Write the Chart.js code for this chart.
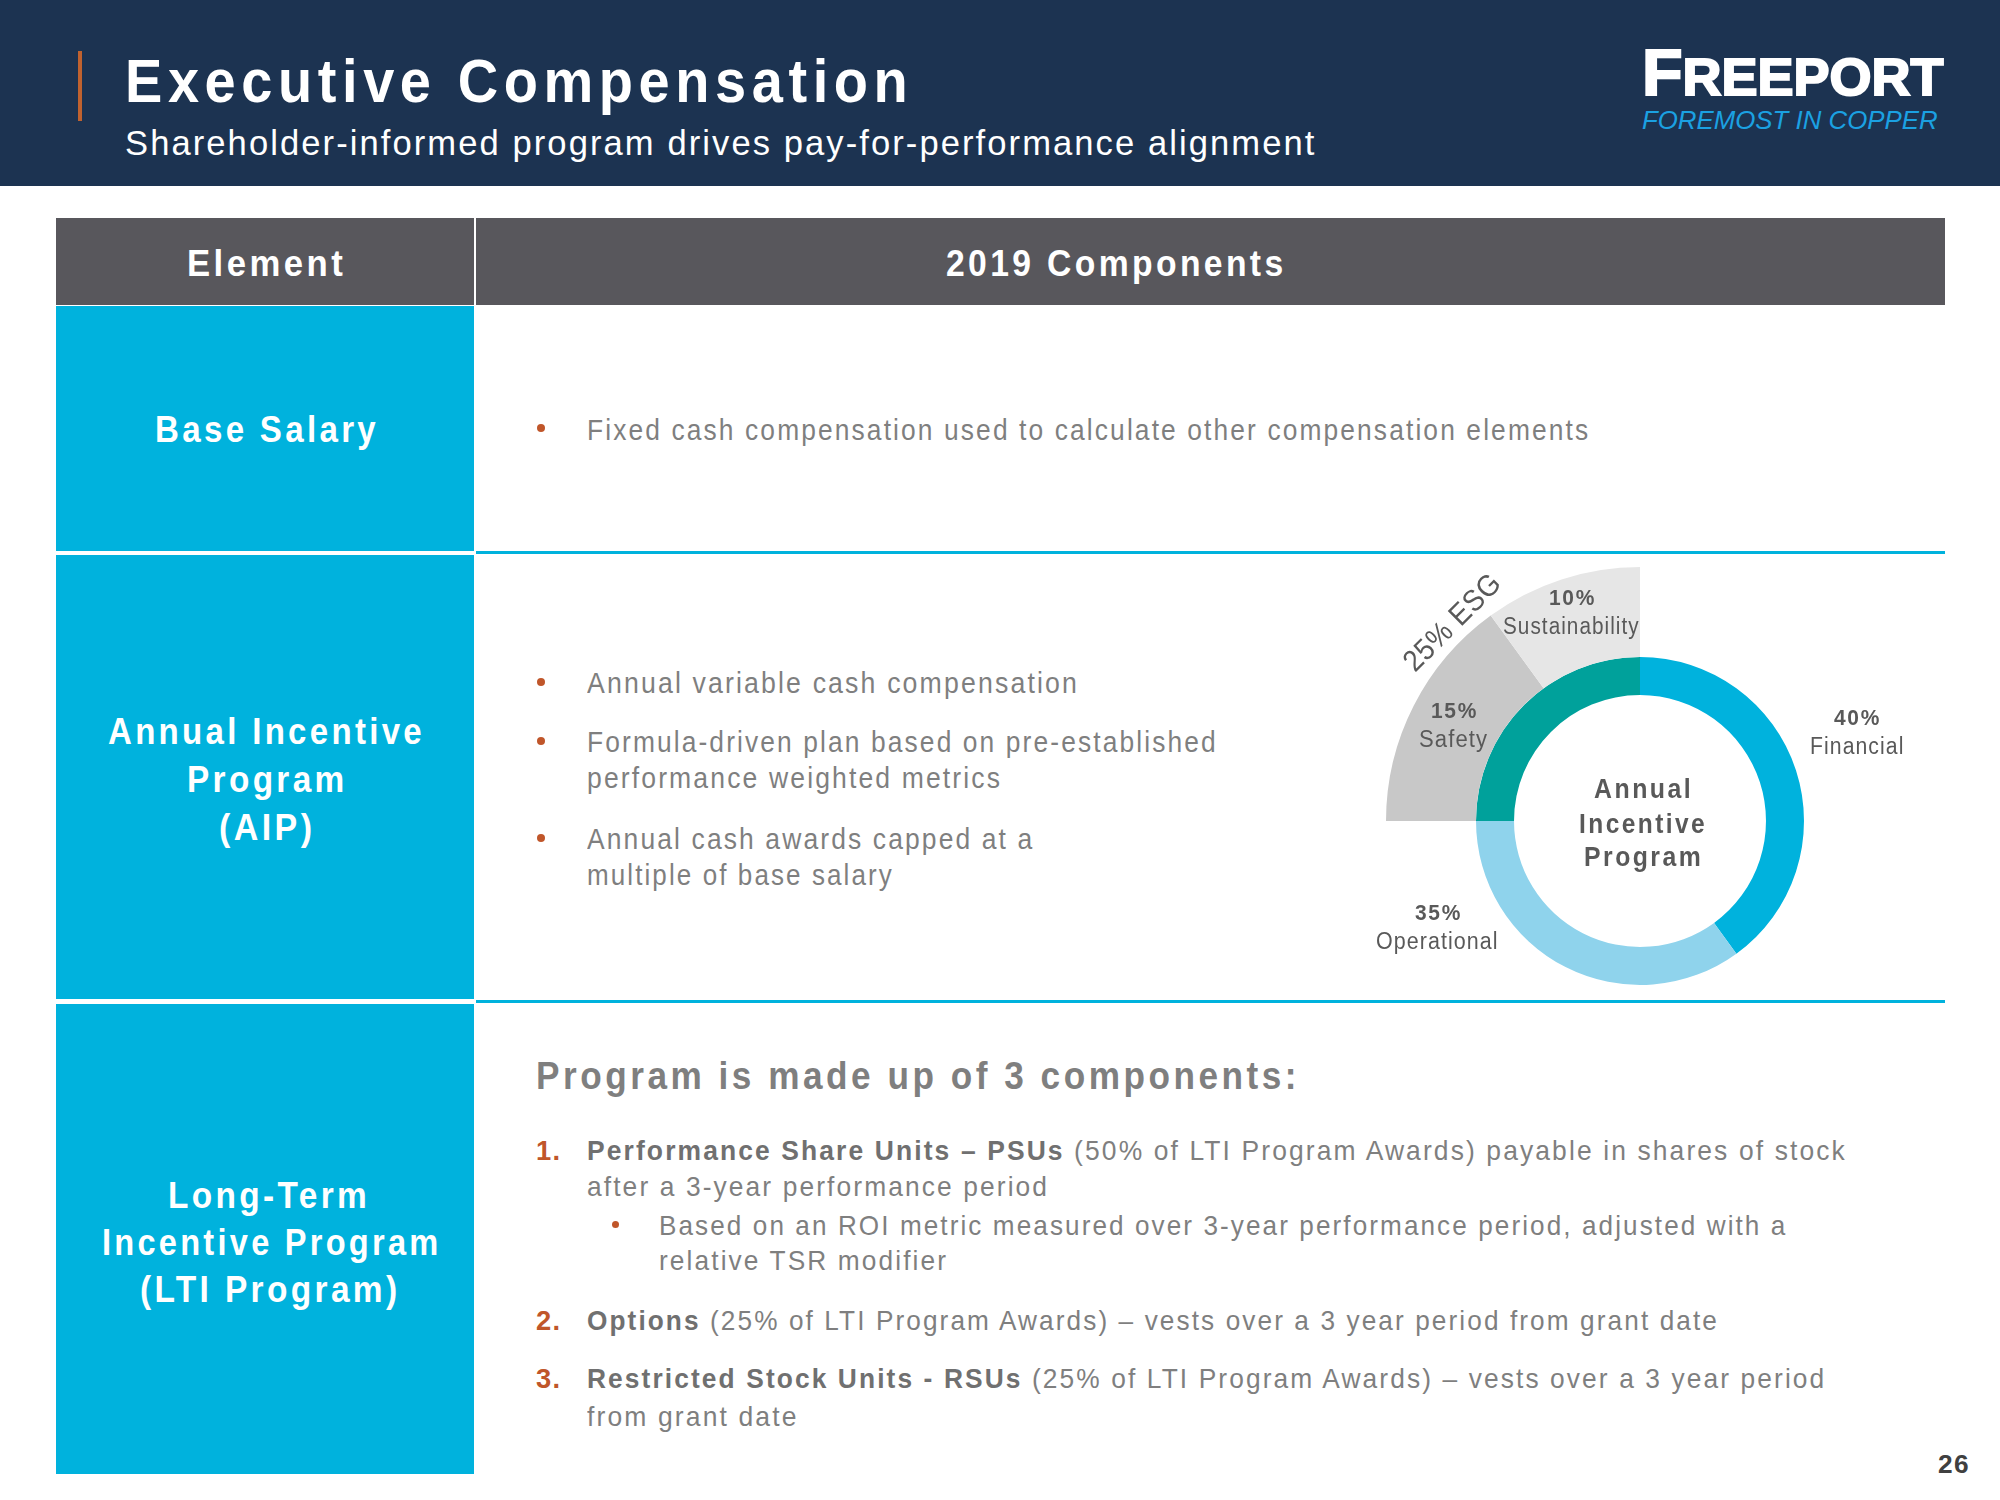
<!DOCTYPE html>
<html>
<head>
<meta charset="utf-8">
<script src="https://cdn.jsdelivr.net/npm/chart.js@4.4.1/dist/chart.umd.min.js"></script>
<style>
  html,body{margin:0;padding:0;background:#fff;}
  body{width:2000px;height:1500px;position:relative;overflow:hidden;}
  .r{position:absolute;}
  .t{position:absolute;white-space:nowrap;line-height:1;transform-origin:0 0;
     font-family:"Liberation Sans Narrow","Liberation Sans",Arial,sans-serif;}
  .w{color:#fff;font-weight:bold;}
  .g{color:#7f7f7f;}
  .d{color:#595959;}
  .o{color:#c0562a;font-weight:bold;}
  b{font-weight:bold;color:#707070;}
  .dot{position:absolute;width:8px;height:8px;border-radius:50%;background:#c0562a;}
</style>
</head>
<body>
<!-- header band -->
<div class="r" style="left:0;top:0;width:2000px;height:186px;background:#1c3351;"></div>
<div class="r" style="left:78px;top:51px;width:4px;height:70px;background:#c0622f;"></div>
<div class="t w" data-x="125" data-y="79" data-w="783" data-ls="0.1" style="font-size:62px;">Executive Compensation</div>
<div class="t" data-x="125" data-y="141" data-w="1189" data-ls="0.06" style="font-size:35px;color:#fff;">Shareholder-informed program drives pay-for-performance alignment</div>
<div class="t w" data-x="1642" data-y="70" data-w="301" data-ls="0" style="font-size:64px;font-weight:900;-webkit-text-stroke:2px #fff;"><span>F</span><span style="font-size:52px;">REEPORT</span></div>
<div class="t" data-x="1642" data-y="119" data-w="296" data-ls="0" style="font-size:26px;font-style:italic;color:#1ba1e2;font-family:'Liberation Sans',Arial,sans-serif;">FOREMOST IN COPPER</div>

<!-- table header -->
<div class="r" style="left:56px;top:218px;width:418px;height:87px;background:#58575c;"></div>
<div class="r" style="left:476px;top:218px;width:1469px;height:87px;background:#58575c;"></div>
<div class="t w" data-x="265" data-y="262" data-w="156" data-a="c" data-ls="0.1" style="font-size:37px;">Element</div>
<div class="t w" data-x="1114" data-y="262" data-w="337" data-a="c" data-ls="0.1" style="font-size:37px;">2019 Components</div>

<!-- row cells -->
<div class="r" style="left:56px;top:306px;width:418px;height:245px;background:#00b2dd;"></div>
<div class="r" style="left:56px;top:555px;width:418px;height:444px;background:#00b2dd;"></div>
<div class="r" style="left:56px;top:1004px;width:418px;height:470px;background:#00b2dd;"></div>
<div class="r" style="left:476px;top:551px;width:1469px;height:3px;background:#00b2dd;"></div>
<div class="r" style="left:476px;top:1000px;width:1469px;height:3px;background:#00b2dd;"></div>

<!-- row labels -->
<div class="t w" data-x="265" data-y="429" data-w="221" data-a="c" data-ls="0.1" style="font-size:36px;">Base Salary</div>
<div class="t w" data-x="265" data-y="731" data-w="314" data-a="c" data-ls="0.1" style="font-size:36px;">Annual Incentive</div>
<div class="t w" data-x="265" data-y="779" data-w="157" data-a="c" data-ls="0.1" style="font-size:36px;">Program</div>
<div class="t w" data-x="265" data-y="827" data-w="93" data-a="c" data-ls="0.1" style="font-size:36px;">(AIP)</div>
<div class="t w" data-x="267" data-y="1195" data-w="199" data-a="c" data-ls="0.1" style="font-size:36px;">Long-Term</div>
<div class="t w" data-x="270" data-y="1242" data-w="336" data-a="c" data-ls="0.1" style="font-size:36px;">Incentive Program</div>
<div class="t w" data-x="268" data-y="1289" data-w="257" data-a="c" data-ls="0.1" style="font-size:36px;">(LTI Program)</div>

<!-- base salary bullet -->
<div class="dot" style="left:537px;top:424px;"></div>
<div class="t g" data-x="587" data-y="429" data-w="1001" data-ls="0.08" style="font-size:30px;">Fixed cash compensation used to calculate other compensation elements</div>

<!-- AIP bullets -->
<div class="dot" style="left:537px;top:678px;"></div>
<div class="t g" data-x="587" data-y="682" data-w="490" data-ls="0.08" style="font-size:30px;">Annual variable cash compensation</div>
<div class="dot" style="left:537px;top:737px;"></div>
<div class="t g" data-x="587" data-y="741" data-w="629" data-ls="0.08" style="font-size:30px;">Formula-driven plan based on pre-established</div>
<div class="t g" data-x="587" data-y="777" data-w="413" data-ls="0.08" style="font-size:30px;">performance weighted metrics</div>
<div class="dot" style="left:537px;top:834px;"></div>
<div class="t g" data-x="587" data-y="838" data-w="445" data-ls="0.08" style="font-size:30px;">Annual cash awards capped at a</div>
<div class="t g" data-x="587" data-y="874" data-w="305" data-ls="0.08" style="font-size:30px;">multiple of base salary</div>

<!-- donut chart -->
<div class="r" style="left:1386px;top:567px;width:508px;height:508px;">
  <canvas id="aip" width="508" height="508"></canvas>
</div>
<div class="t d" id="esg" data-x="1452" data-y="622" data-w="124" data-a="c" data-ls="0.02" data-rot="-45" style="font-size:30px;">25% ESG</div>
<div class="t d" data-x="1571" data-y="597" data-w="45" data-a="c" data-ls="0.08" style="font-size:22px;font-weight:bold;">10%</div>
<div class="t d" data-x="1571" data-y="626" data-w="136" data-a="c" data-ls="0.05" style="font-size:23px;">Sustainability</div>
<div class="t d" data-x="1453" data-y="710" data-w="45" data-a="c" data-ls="0.08" style="font-size:22px;font-weight:bold;">15%</div>
<div class="t d" data-x="1453" data-y="739" data-w="68" data-a="c" data-ls="0.05" style="font-size:23px;">Safety</div>
<div class="t d" data-x="1856" data-y="717" data-w="45" data-a="c" data-ls="0.08" style="font-size:22px;font-weight:bold;">40%</div>
<div class="t d" data-x="1856" data-y="746" data-w="93" data-a="c" data-ls="0.05" style="font-size:23px;">Financial</div>
<div class="t d" data-x="1437" data-y="912" data-w="45" data-a="c" data-ls="0.08" style="font-size:22px;font-weight:bold;">35%</div>
<div class="t d" data-x="1437" data-y="941" data-w="122" data-a="c" data-ls="0.05" style="font-size:23px;">Operational</div>
<div class="t d" data-x="1642" data-y="788" data-w="97" data-a="c" data-ls="0.1" style="font-size:28px;font-weight:bold;">Annual</div>
<div class="t d" data-x="1642" data-y="823" data-w="126" data-a="c" data-ls="0.1" style="font-size:28px;font-weight:bold;">Incentive</div>
<div class="t d" data-x="1642" data-y="856" data-w="117" data-a="c" data-ls="0.1" style="font-size:28px;font-weight:bold;">Program</div>

<!-- LTI section -->
<div class="t g" data-x="536" data-y="1074" data-w="761" data-ls="0.1" style="font-size:38px;font-weight:bold;">Program is made up of 3 components:</div>
<div class="t o" data-x="536" data-y="1150" data-w="24" data-ls="0.05" style="font-size:28px;">1.</div>
<div class="t g" data-x="587" data-y="1150" data-w="1258" data-ls="0.08" style="font-size:28px;"><b>Performance Share Units – PSUs</b> (50% of LTI Program Awards) payable in shares of stock</div>
<div class="t g" data-x="587" data-y="1186" data-w="460" data-ls="0.08" style="font-size:28px;">after a 3-year performance period</div>
<div class="dot" style="left:612px;top:1221px;width:7px;height:7px;"></div>
<div class="t g" data-x="659" data-y="1225" data-w="1126" data-ls="0.08" style="font-size:28px;">Based on an ROI metric measured over 3-year performance period, adjusted with a</div>
<div class="t g" data-x="659" data-y="1260" data-w="287" data-ls="0.08" style="font-size:28px;">relative TSR modifier</div>
<div class="t o" data-x="536" data-y="1320" data-w="24" data-ls="0.05" style="font-size:28px;">2.</div>
<div class="t g" data-x="587" data-y="1320" data-w="1130" data-ls="0.08" style="font-size:28px;"><b>Options</b> (25% of LTI Program Awards) – vests over a 3 year period from grant date</div>
<div class="t o" data-x="536" data-y="1378" data-w="24" data-ls="0.05" style="font-size:28px;">3.</div>
<div class="t g" data-x="587" data-y="1378" data-w="1237" data-ls="0.08" style="font-size:28px;"><b>Restricted Stock Units - RSUs</b> (25% of LTI Program Awards) – vests over a 3 year period</div>
<div class="t g" data-x="587" data-y="1416" data-w="209" data-ls="0.08" style="font-size:28px;">from grant date</div>

<div class="t" data-x="1953" data-y="1463" data-w="31" data-a="c" data-ls="0.05" style="font-size:26px;font-weight:bold;color:#404040;">26</div>

<script>
// ---- chart data ----
const categories = ['Financial', 'Operational', 'Safety', 'Sustainability'];
const esgWedgeValues = [40, 35, 15, 10];      // outer grey wedge: only Safety & Sustainability shown
const ringLabels = ['Financial', 'Operational', 'ESG'];
const ringValues = [40, 35, 25];              // AIP ring: 40% Financial, 35% Operational, 25% ESG
const wedgeColors = ['rgba(0,0,0,0)', 'rgba(0,0,0,0)', '#c8c8c8', '#e6e6e6'];
const ringColors = ['#00b2dd', '#8fd3ec', '#00a19b'];

new Chart(document.getElementById('aip').getContext('2d'), {
  type: 'doughnut',
  data: {
    labels: categories,
    datasets: [
      { data: esgWedgeValues, backgroundColor: wedgeColors, borderWidth: 0, weight: 90, hoverOffset: 0, offset: 0 },
      { data: ringValues, backgroundColor: ringColors, borderWidth: 0, weight: 38, hoverOffset: 0, offset: 0 }
    ]
  },
  options: {
    responsive: false,
    animation: false,
    events: [],
    cutout: '49.6%',
    rotation: 0,
    layout: { padding: 0 },
    plugins: { legend: { display: false }, tooltip: { enabled: false } }
  }
});

// ---- text fitting ----
function fitAll() {
  document.querySelectorAll('.t').forEach(el => {
    const fs = parseFloat(getComputedStyle(el).fontSize);
    const ls = parseFloat(el.dataset.ls || 0) * fs;
    el.style.letterSpacing = ls + 'px';
    el.style.transform = 'none';
    const w = el.offsetWidth - ls;
    const h = el.offsetHeight;
    const target = parseFloat(el.dataset.w);
    const s = target / w;
    const x = parseFloat(el.dataset.x), y = parseFloat(el.dataset.y);
    const rot = parseFloat(el.dataset.rot || 0);
    if (rot) {
      el.style.left = (x - w / 2) + 'px';
      el.style.top = (y - h / 2) + 'px';
      el.style.transformOrigin = '50% 50%';
      el.style.transform = 'rotate(' + rot + 'deg) scaleX(' + s + ')';
      return;
    }
    const left = el.dataset.a === 'c' ? x - target / 2 : x;
    el.style.left = left + 'px';
    el.style.top = (y - h / 2 + fs * 0.04) + 'px';
    el.style.transform = 'scaleX(' + s + ')';
  });
}
fitAll();
if (document.fonts && document.fonts.ready) document.fonts.ready.then(fitAll);
</script>
</body>
</html>
